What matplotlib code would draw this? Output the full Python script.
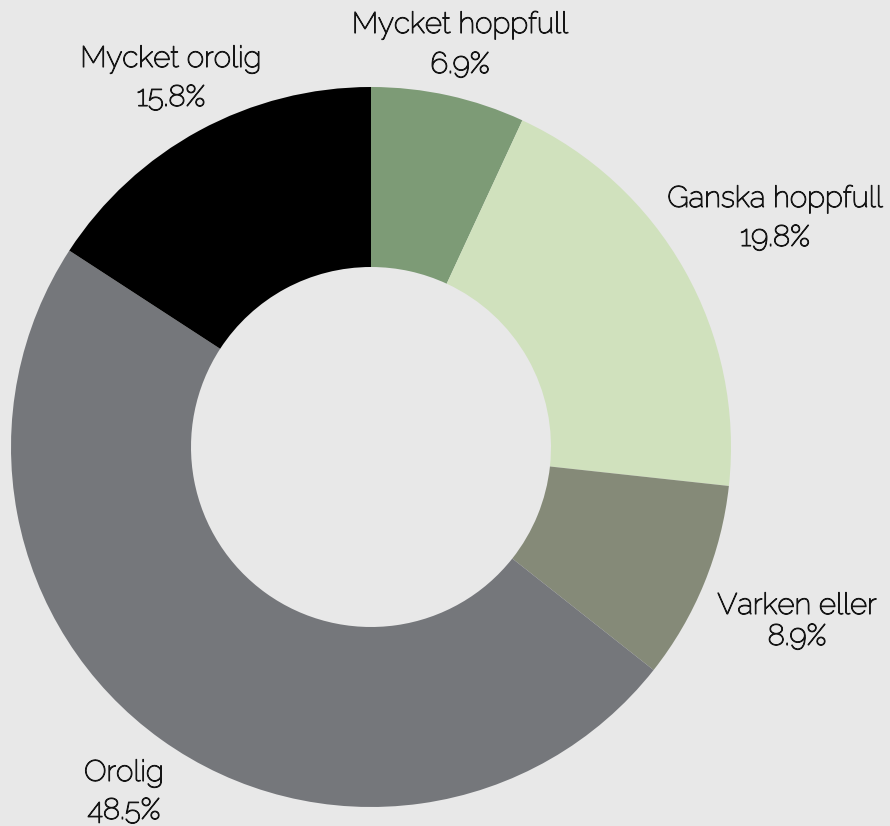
import matplotlib
matplotlib.use("Agg")
import matplotlib.pyplot as plt
import matplotlib.patheffects as pe

categories = ["Mycket hoppfull", "Ganska hoppfull", "Varken eller", "Orolig", "Mycket orolig"]
values = [6.9, 19.8, 8.9, 48.5, 15.8]
colors = ["#7d9b76", "#d0e1bd", "#858a78", "#75777b", "#000000"]

# label placements (pixel coords: x center, baseline of name, baseline of percent)
label_pos = {
    "Mycket hoppfull": (460, 33, 73),
    "Ganska hoppfull": (775, 207, 246),
    "Varken eller": (797, 614, 645),
    "Orolig": (124, 781, 819),
    "Mycket orolig": (171, 67, 106),
}

W, H = 890, 826
bg = "#e8e8e8"
fig = plt.figure(figsize=(W / 100, H / 100), dpi=100, facecolor=bg)
ax = fig.add_axes([0, 0, 1, 1])
ax.set_facecolor(bg)

cx, cy, R = 371, H - 447, 360
ax.pie(values, colors=colors, startangle=90, counterclock=False,
       center=(cx, cy), radius=R, wedgeprops=dict(width=180, linewidth=0),
       frame=True)
ax.set_xlim(0, W)
ax.set_ylim(0, H)
ax.set_aspect("equal")
ax.axis("off")

tcol = "#151515"
effects = [pe.Stroke(linewidth=0.8, foreground=tcol, joinstyle="round"), pe.Normal()]
font = dict(family=["Raleway", "Lato", "DejaVu Sans"], fontsize=21.3, color=tcol,
            ha="center", va="baseline", path_effects=effects)
for cat, val in zip(categories, values):
    x, y1, y2 = label_pos[cat]
    ax.text(x, H - y1, cat, **font)
    ax.text(x, H - y2, f"{val:.1f}%", **font)

fig.savefig("out.png", dpi=100, facecolor=bg)
